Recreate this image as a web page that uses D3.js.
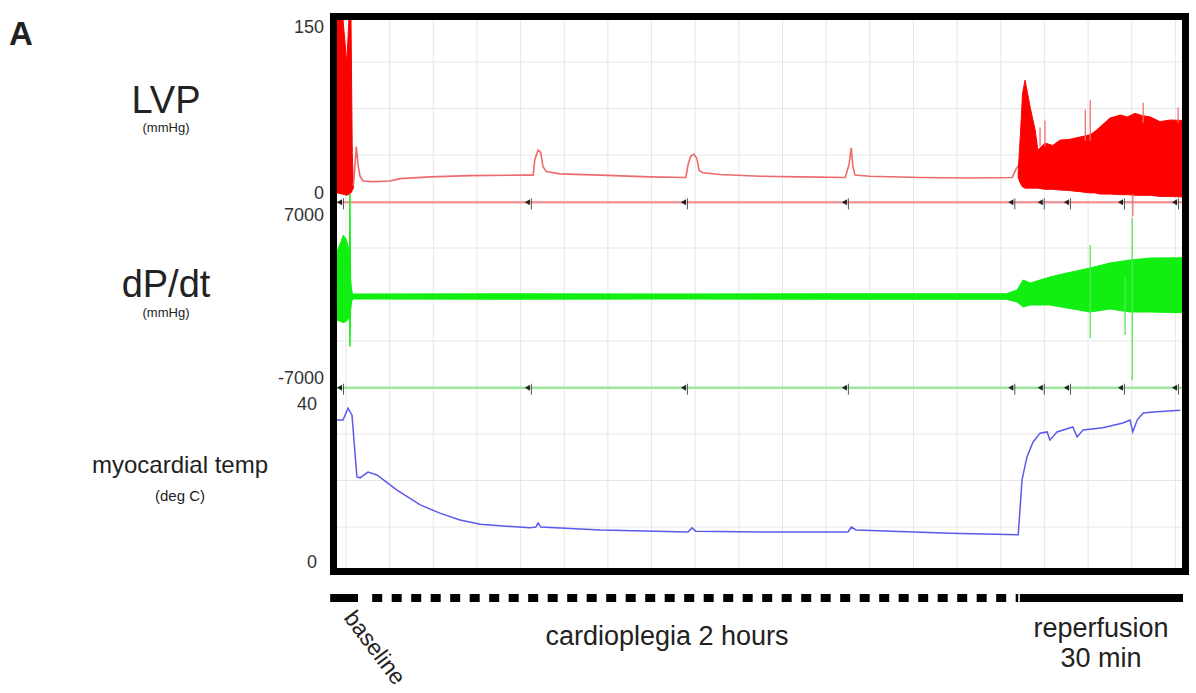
<!DOCTYPE html>
<html lang="en">
<head>
<meta charset="UTF-8">
<title>LVP, dP/dt and myocardial temperature</title>
<script src="https://d3js.org/d3.v7.min.js"></script>
<style>
  body { margin: 0; padding: 0; background: #fff; }
  svg { display: block; background: #fff; font-family: "Liberation Sans", Arial, sans-serif; }
  .grid line { stroke: #e6e6e6; stroke-width: 1; }
  .axis text { font-size: 18px; fill: #333; font-family: "Liberation Sans", Arial, sans-serif; }
  .axis path, .axis line { display: none; }
  .lbl { fill: #222; }
</style>
</head>
<body>
<svg width="1196" height="693"></svg>
<script>
// ---- data (time in minutes, one vertical grid line every 8 min) ----
const gridStep = 8;
const markerT = [-0.73, 33.7, 62.3, 91.8, 122.3, 127.7, 132.5, 142.4, 152.3];

// LVP (mmHg): baseline beats (envelope), cardioplegia trace, reperfusion beats (envelope)
const lvpBaseT = [-1.65, -0.7, 0.15, 0.6, 0.9, 1.15, 1.35];
const lvpBaseLo = [6, 5, 4, 5, 6, 8, 10];
const lvpBaseHi = [160, 160, 115, 160, 160, 40, 12];

const lvpT = [1.35, 1.9, 2.2, 2.57, 3.12, 4.77, 8.06, 9.9, 15.4, 22.7, 31.9, 34.3, 34.6, 35.2, 35.7, 36.1, 36.7, 39.2, 46.6, 55.7,
  62.3, 62.7, 63.2, 63.8, 64.3, 64.7, 65.4, 68.5, 75.9, 83.2, 91.5, 92.2, 92.6, 92.9, 93.3, 96.0, 105.2, 114.4, 122.1, 122.8, 123.4];
const lvpV = [12, 45, 30, 20, 16, 15.5, 16, 18, 19.5, 20.5, 21, 21, 34, 42, 40, 28, 24, 22, 21, 19.5,
  19, 30, 37, 38.5, 35, 25, 23, 21.5, 20, 19.5, 19, 30, 44, 28, 21, 20, 19, 18.5, 19, 26, 30];

const lvpRepT = [123.2, 123.6, 124.0, 124.45, 125.4, 126.3, 126.8, 128.1, 129.5, 130.9, 132.5, 134.5, 136.4, 137.3, 138.2, 140.0, 141.9, 143.2, 144.6, 146.0, 147.4, 149.2, 151.0, 153.6];
const lvpRepLo = [19, 14, 11, 10, 10, 10, 10, 9, 9, 8.4, 8, 7, 6, 6, 5, 5, 4.5, 4.5, 4, 4, 4, 3, 3, 2.5];
const lvpRepHi = [24, 55, 90, 101, 78, 59, 42, 48, 46, 50.5, 51, 53, 55, 58, 61.5, 69, 71.6, 70, 73, 71, 70, 66, 67.4, 67];

const lvpSpikeT = [127.2, 128.1, 135.5, 136.4, 144.2, 146.1, 152.5];
const lvpSpikeLo = [45, 45, 50, 50, -14, 65, 65];
const lvpSpikeHi = [61, 67, 76, 84, 5, 82, 78];

// dP/dt (mmHg/s) envelope
const dpT = [-1.65, -1.0, -0.5, 0.0, 0.4, 0.6, 0.72, 0.85, 1.0, 1.2, 30, 60, 90, 121, 123.0, 124.1, 125.4, 129.0, 132.1, 136.4, 140.0, 143.7, 147.4, 153.6];
const dpLo = [-1900, -2000, -2100, -2000, -1800, -1500, -4000, -1200, -500, -200, -220, -200, -220, -220, -440, -840, -680, -680, -920, -1240, -1000, -1240, -1240, -1300];
const dpHi = [3600, 4300, 4900, 4600, 4000, 3000, 8200, 1500, 600, 200, 220, 200, 220, 220, 520, 1320, 1080, 1560, 1880, 2280, 2680, 2920, 3080, 3100];

const dpSpikeT = [136.4, 142.8, 144.1];
const dpSpikeLo = [-3320, -3080, -6680];
const dpSpikeHi = [4120, 1500, 6280];

// myocardial temperature (deg C)
const tempT = [-1.65, -0.55, 0.37, 1.1, 2.0, 2.57, 4.03, 5.68, 9.35, 13.6, 17.2, 20.9, 24.6, 33.7, 34.8, 35.2, 35.7, 46.6, 62.7, 63.4,
  64.1, 75.9, 92.0, 92.6, 93.5, 110.7, 123.2, 123.9, 124.8, 125.9, 127.2, 128.5, 129.0, 130.3, 133.2, 134.0, 135.1, 138.7, 142.4, 143.7,
  144.2, 145.0, 146.1, 148.6, 152.9];
const tempV = [35.6, 35.6, 38.5, 36.8, 21.7, 21.5, 22.9, 22.2, 18.5, 14.9, 12.9, 11.2, 10.2, 9.3, 9.5, 10.5, 9.5, 8.8, 8.3, 9.3,
  8.5, 8.3, 8.3, 9.5, 8.8, 8.0, 7.6, 21, 26.6, 30.2, 32.4, 32.7, 30.7, 32.7, 33.9, 31.5, 33.2, 33.7, 34.9, 35.6,
  32.7, 35.6, 37.3, 37.6, 38.0];

// protocol phases
const phaseStart = [-2.9, 4.8, 123.5];
const phaseEnd = [2.2, 123.2, 153.4];

// ---- layout ----
const svg = d3.select("svg");
const inner = { l: 337, t: 20, r: 1182, b: 568 };

const x = d3.scaleLinear().domain([-1.1, 153.4]).range([340, 1183]);
const yLvp = d3.scaleLinear().domain([0, 150]).range([200, 22]);
const yDp = d3.scaleLinear().domain([-7000, 7000]).range([384, 209]);
const yTemp = d3.scaleLinear().domain([0, 40]).range([566, 402]);

const zip3 = (t, a, b) => t.map((d, i) => ({ t: d, lo: a[i], hi: b[i] }));
const zip2 = (t, a) => t.map((d, i) => ({ t: d, v: a[i] }));

svg.append("defs").append("clipPath").attr("id", "plot")
  .append("rect").attr("x", inner.l).attr("y", inner.t)
  .attr("width", inner.r - inner.l).attr("height", inner.b - inner.t);

// grid
const grid = svg.append("g").attr("class", "grid");
grid.selectAll("line.v").data(d3.range(0, 153, gridStep)).join("line")
  .attr("class", "v").attr("x1", d => x(d)).attr("x2", d => x(d))
  .attr("y1", inner.t).attr("y2", inner.b);
grid.selectAll("line.h").data(d3.range(1, 12)).join("line")
  .attr("class", "h").attr("x1", inner.l).attr("x2", inner.r)
  .attr("y1", d => 15.5 + 46.5 * d).attr("y2", d => 15.5 + 46.5 * d);

const plot = svg.append("g").attr("clip-path", "url(#plot)");

// event marker rows
function markerRow(y, color) {
  plot.append("line").attr("x1", inner.l).attr("x2", inner.r).attr("y1", y).attr("y2", y)
    .attr("stroke", color).attr("stroke-width", 2.5);
  const m = plot.append("g").selectAll("g").data(markerT).join("g")
    .attr("transform", d => `translate(${x(d)},${y})`);
  m.append("path").attr("d", "M0,-3L-5,0L0,3Z").attr("fill", "#222");
  m.append("line").attr("x1", 1.5).attr("x2", 1.5).attr("y1", -4).attr("y2", 7)
    .attr("stroke", "#555").attr("stroke-width", 1);
}
markerRow(yLvp(-2), "#f29a9a");
markerRow(yDp(-7300), "#9de69d");

function band(data, y, color) {
  plot.append("path").datum(data)
    .attr("d", d3.area().x(d => x(d.t)).y0(d => y(d.lo)).y1(d => y(d.hi)))
    .attr("fill", color).attr("stroke", color).attr("stroke-width", 1);
}
function spikes(data, y, color) {
  plot.append("g").selectAll("line").data(data).join("line")
    .attr("x1", d => x(d.t)).attr("x2", d => x(d.t))
    .attr("y1", d => y(d.lo)).attr("y2", d => y(d.hi))
    .attr("stroke", color).attr("stroke-width", 1.3);
}

// LVP
band(zip3(lvpBaseT, lvpBaseLo, lvpBaseHi), yLvp, "#ff0000");
plot.append("path").datum(zip2(lvpT, lvpV))
  .attr("d", d3.line().x(d => x(d.t)).y(d => yLvp(d.v)))
  .attr("fill", "none").attr("stroke", "#ee6a6a").attr("stroke-width", 1.6);
band(zip3(lvpRepT, lvpRepLo, lvpRepHi), yLvp, "#ff0000");
spikes(zip3(lvpSpikeT, lvpSpikeLo, lvpSpikeHi), yLvp, "#f07070");

// dP/dt
band(zip3(dpT, dpLo, dpHi), yDp, "#11ee11");
spikes(zip3(dpSpikeT, dpSpikeLo, dpSpikeHi), yDp, "#55e855");

// temperature
plot.append("path").datum(zip2(tempT, tempV))
  .attr("d", d3.line().x(d => x(d.t)).y(d => yTemp(d.v)))
  .attr("fill", "none").attr("stroke", "#5a5aec").attr("stroke-width", 1.5);

// frame
svg.append("rect").attr("x", 333.5).attr("y", 16.5).attr("width", 852).attr("height", 555)
  .attr("fill", "none").attr("stroke", "#000").attr("stroke-width", 7);

// channel scale labels
function channelAxis(scale, values, xPos, shifts) {
  const g = svg.append("g").attr("class", "axis")
    .attr("transform", `translate(${xPos},0)`)
    .call(d3.axisLeft(scale).tickValues(values).tickSize(0).tickPadding(0).tickFormat(d => String(d)));
  g.selectAll(".tick text").attr("y", (d, i) => shifts[i]);
}
channelAxis(yLvp, [0, 150], 324, [-7, 5]);
channelAxis(yDp, [-7000, 7000], 324, [-6, 6]);
channelAxis(yTemp, [0, 40], 317, [-4, 2]);

// channel names
function label(txt, cx, y, size, weight) {
  svg.append("text").attr("class", "lbl").attr("x", cx).attr("y", y)
    .attr("text-anchor", "middle").attr("font-size", size).attr("font-weight", weight || "normal")
    .text(txt);
}
svg.append("text").attr("class", "lbl").attr("x", 9).attr("y", 45)
  .attr("font-size", 33).attr("font-weight", "bold").text("A");
label("LVP", 166, 113, 38);
label("(mmHg)", 166, 132, 13);
label("dP/dt", 166, 297, 38);
label("(mmHg)", 166, 317, 13);
label("myocardial temp", 180, 473, 24);
label("(deg C)", 180, 501, 15);

// protocol bar
const barY = 598;
const bar = svg.append("g").attr("stroke", "#000").attr("stroke-width", 8);
bar.append("line").attr("x1", x(phaseStart[0])).attr("x2", x(phaseEnd[0])).attr("y1", barY).attr("y2", barY);
bar.append("line").attr("x1", x(phaseStart[1])).attr("x2", x(phaseEnd[1])).attr("y1", barY).attr("y2", barY)
  .attr("stroke-dasharray", "10 9.5");
bar.append("line").attr("x1", x(phaseStart[2])).attr("x2", x(phaseEnd[2])).attr("y1", barY).attr("y2", barY);

svg.append("text").attr("class", "lbl").attr("transform", "translate(343,618) rotate(53)")
  .attr("font-size", 23).text("baseline");
label("cardioplegia 2 hours", 667, 645, 27);
label("reperfusion", 1101, 637, 27);
label("30 min", 1101, 667, 27);
</script>
</body>
</html>
